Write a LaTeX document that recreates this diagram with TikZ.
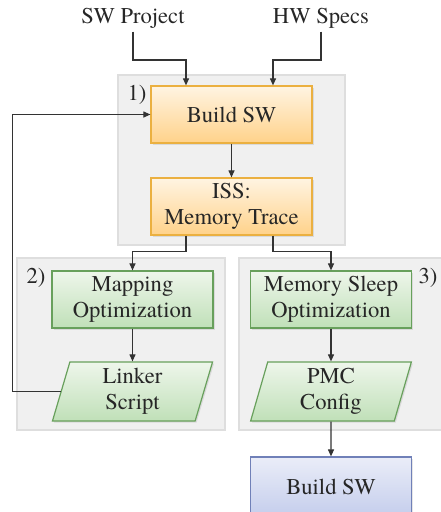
\documentclass[tikz,border=0pt]{standalone}
\usepackage{fontspec}
\setmainfont{texgyretermes}[Extension=.otf, UprightFont=*-regular, BoldFont=*-bold]
\usetikzlibrary{shapes.geometric,arrows.meta,positioning,calc,shadows}
\definecolor{panelgrey}{RGB}{240,240,240}
\definecolor{panelline}{RGB}{222,222,222}
\definecolor{orangetop}{RGB}{255,244,226}
\definecolor{orangebot}{RGB}{255,210,138}
\definecolor{orangeline}{RGB}{235,176,64}
\definecolor{greentop}{RGB}{238,246,235}
\definecolor{greenbot}{RGB}{192,224,184}
\definecolor{greenline}{RGB}{104,160,92}
\definecolor{bluetop}{RGB}{234,237,248}
\definecolor{bluebot}{RGB}{196,205,236}
\definecolor{blueline}{RGB}{112,128,184}
\definecolor{arrowgrey}{RGB}{51,51,51}

\begin{document}
\begin{tikzpicture}[x=1pt, y=-1pt,
    font=\fontsize{22.6}{26}\selectfont,
    panel/.style={fill=panelgrey, draw=panelline, line width=1.2pt},
    box/.style={rectangle, minimum width=161pt, minimum height=57pt, align=center, inner sep=2pt, line width=1.2pt, text=black!85, drop shadow={shadow xshift=1.5pt, shadow yshift=-1.5pt, opacity=0.2}},
    datbox/.style={box, trapezium, trapezium left angle=80, trapezium right angle=100, trapezium stretches=true, minimum height=59pt},
    orangebox/.style={top color=orangetop, bottom color=orangebot, draw=orangeline},
    greenbox/.style={top color=greentop, bottom color=greenbot, draw=greenline},
    bluebox/.style={top color=bluetop, bottom color=bluebot, draw=blueline},
    step label/.style={inner sep=0pt, text=black!85},
    arrow/.style={-{Triangle[length=7pt,width=6pt]}, line width=1.1pt, draw=arrowgrey}
]
\useasboundingbox (0,0) rectangle (441,512);

% grey panels
\draw[panel] (118,75) rectangle (345,245);
\draw[panel] (17,258) rectangle (225,430);
\draw[panel] (239,258) rectangle (446,430);

\node[text=black!85] (swp) at (133,18) {SW Project};
\node[text=black!85] (hws) at (321,18) {HW Specs};

\node[box, orangebox] (build) at (231.5,114.5) {Build SW};
\node[box, orangebox] (iss) at (231.5,206.5) {ISS:\\Memory Trace};
\node[box, greenbox] (map) at (132.5,299.5) {Mapping\\Optimization};
\node[datbox, greenbox] (link) at (132.5,391.5) {Linker\\Script};
\node[box, greenbox] (sleep) at (331,299.5) {Memory Sleep\\Optimization};
\node[datbox, greenbox] (pmc) at (331,391.5) {PMC\\Config};
\node[box, bluebox, minimum height=60pt] (final) at (331,487) {Build SW};

\node[step label] (n1) at (137,95) {1)};
\node[step label] (n2) at (36,278) {2)};
\node[step label] (n3) at (428,278) {3)};

\coordinate (inl) at (186,60);
\coordinate (inr) at (273,60);

\draw[arrow] (swp.south) |- (inl) -- (inl |- build.north);
\draw[arrow] (hws.south) |- (inr) -- (inr |- build.north);
\draw[arrow] (build) -- (iss);
\draw[arrow] (iss.south -| inl) -- ++(0,16) -| (map.north);
\draw[arrow] (iss.south -| inr) -- ++(0,16) -| (sleep.north);
\draw[arrow] (map) -- (link);
\draw[arrow] (sleep) -- (pmc);
\draw[arrow] (pmc) -- (final);
\draw[arrow] (link.west) -- ++(-48,0) |- (build.west);
\end{tikzpicture}
\end{document}
